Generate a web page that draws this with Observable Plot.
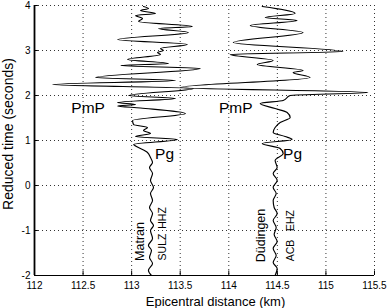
<!DOCTYPE html>
<html><head><meta charset="utf-8">
<script src="https://cdn.jsdelivr.net/npm/d3@7"></script>
<script src="https://cdn.jsdelivr.net/npm/@observablehq/plot@0.6"></script>
<style>body{margin:0;background:#fff} svg{display:block}</style>
</head><body><div id="chart"></div>
<script>
const xTicks = [112, 112.5, 113, 113.5, 114, 114.5, 115, 115.5];
const yTicks = [-2, -1, 0, 1, 2, 3, 4];

// Matran (SULZ HHZ) trace: reduced time (s) and plotted distance (km)
const matranTime = [-2.0,-1.889,-1.733,-1.6,-1.444,-1.333,-1.178,-1.0,-0.889,-0.778,-0.622,-0.489,-0.333,-0.178,-0.044,0.111,0.267,0.4,0.511,0.622,0.733,0.867,0.911,1.022,1.089,1.156,1.222,1.289,1.356,1.444,1.6,1.722,1.767,1.8,1.844,1.933,2.0,2.156,2.244,2.333,2.4,2.6,2.667,2.711,2.8,2.911,2.956,3.0,3.044,3.133,3.244,3.4,3.489,3.533,3.644,3.711,3.778,3.822,3.889,3.933,3.978];
const matranDist = [113.204,113.173,113.215,113.184,113.204,113.173,113.215,113.194,113.225,113.194,113.215,113.184,113.215,113.194,113.225,113.194,113.215,113.184,113.215,113.194,113.163,113.050,113.020,113.471,113.040,113.194,113.122,113.163,113.020,113.009,113.553,113.091,112.855,113.040,112.855,113.451,112.968,113.636,112.188,113.451,112.629,113.707,112.886,113.379,112.958,113.297,113.266,113.327,113.297,113.574,112.855,113.584,113.276,113.625,113.071,113.112,113.040,113.245,113.091,113.173,113.122];

// Düdingen (ACB EHZ) trace
const dudingenTime = [-2.0,-1.844,-1.711,-1.556,-1.4,-1.244,-1.089,-0.933,-0.778,-0.622,-0.489,-0.333,-0.178,-0.044,0.111,0.267,0.4,0.556,0.711,0.822,0.933,1.022,1.089,1.178,1.289,1.4,1.511,1.622,1.711,1.822,1.889,2.0,2.067,2.178,2.4,2.511,2.556,2.689,2.778,2.911,2.978,3.178,3.4,3.556,3.667,3.733,3.822,3.978];
const dudingenDist = [114.477,114.498,114.457,114.488,114.457,114.498,114.467,114.488,114.457,114.498,114.467,114.457,114.488,114.457,114.498,114.457,114.498,114.477,114.560,114.529,114.344,114.652,114.580,114.457,114.477,114.529,114.632,114.601,114.477,114.323,114.560,114.632,115.433,113.502,114.837,114.662,114.765,114.293,114.457,114.015,115.176,114.046,114.765,114.221,114.703,114.375,114.683,114.344];

const phaseNames = ["PmP", "Pg", "PmP", "Pg"];
const phaseDist = [112.552, 113.339, 114.071, 114.657];
const phaseTime = [1.73, 0.70, 1.73, 0.70];

const stationNames = ["Matran", "Düdingen"];
const stationDist = [113.082, 114.334];
const stationTime = [-1.244, -1.111];

const codeNames = ["SULZ", "HHZ", "ACB", "EHZ"];
const codeDist = [113.318, 113.318, 114.632, 114.632];
const codeTime = [-1.367, -0.722, -1.444, -0.778];

const toRows = (ts, ds) => ts.map((t, i) => ({t, d: ds[i]}));
const font = "'Liberation Sans', Arial, Helvetica, sans-serif";

const chart = Plot.plot({
  width: 388, height: 308,
  marginLeft: 34, marginRight: 14, marginTop: 5, marginBottom: 33,
  style: {fontFamily: font, background: "#fff"},
  x: {domain: [112, 115.5]},
  y: {domain: [-2, 4]},
  marks: [
    Plot.ruleX(xTicks.filter(d => d > 112), {stroke: "#333", strokeDasharray: "1,3", strokeWidth: 1}),
    Plot.ruleY(yTicks.filter(d => d > -2), {stroke: "#333", strokeDasharray: "1,3", strokeWidth: 1}),
    Plot.ruleX([112], {stroke: "#999", strokeWidth: 3}),
    Plot.ruleX([112], {stroke: "#000", strokeWidth: 1}),
    Plot.ruleY([-2], {stroke: "#000", strokeWidth: 1.2}),
    Plot.ruleX(xTicks, {y1: -2, y2: -1.9, stroke: "#000"}),
    Plot.ruleY(yTicks, {x1: 112, x2: 112.04, stroke: "#000"}),
    Plot.axisX({ticks: xTicks, tickSize: 0, tickPadding: 6, fontSize: 10, label: null, tickFormat: d => String(d)}),
    Plot.axisY({ticks: yTicks, tickSize: 0, tickPadding: 4, fontSize: 10, label: null, tickFormat: d => String(d)}),
    Plot.line(toRows(matranTime, matranDist), {x: "d", y: "t", curve: "monotone-y", stroke: "#000", strokeWidth: 1.15}),
    Plot.line(toRows(dudingenTime, dudingenDist), {x: "d", y: "t", curve: "monotone-y", stroke: "#000", strokeWidth: 1.15}),
    Plot.text(phaseNames, {x: (d, i) => phaseDist[i], y: (d, i) => phaseTime[i], text: d => d, fontSize: 15.5, fill: "#000"}),
    Plot.text(stationNames, {x: (d, i) => stationDist[i], y: (d, i) => stationTime[i], text: d => d, rotate: -90, fontSize: 12.5, fill: "#000"}),
    Plot.text(codeNames, {x: (d, i) => codeDist[i], y: (d, i) => codeTime[i], text: d => d, rotate: -90, fontSize: 10.5, fill: "#000"}),
    Plot.text(["Reduced time (seconds)"], {frameAnchor: "left", textAnchor: "middle", lineAnchor: "middle", rotate: -90, dx: -25.5, dy: -6.5, fontSize: 14, fill: "#000"}),
    Plot.text(["Epicentral distance (km)"], {frameAnchor: "bottom", textAnchor: "middle", lineAnchor: "middle", dx: 11, dy: 26, fontSize: 13, fill: "#000"})
  ]
});
document.getElementById("chart").appendChild(chart);
</script>
</body></html>
